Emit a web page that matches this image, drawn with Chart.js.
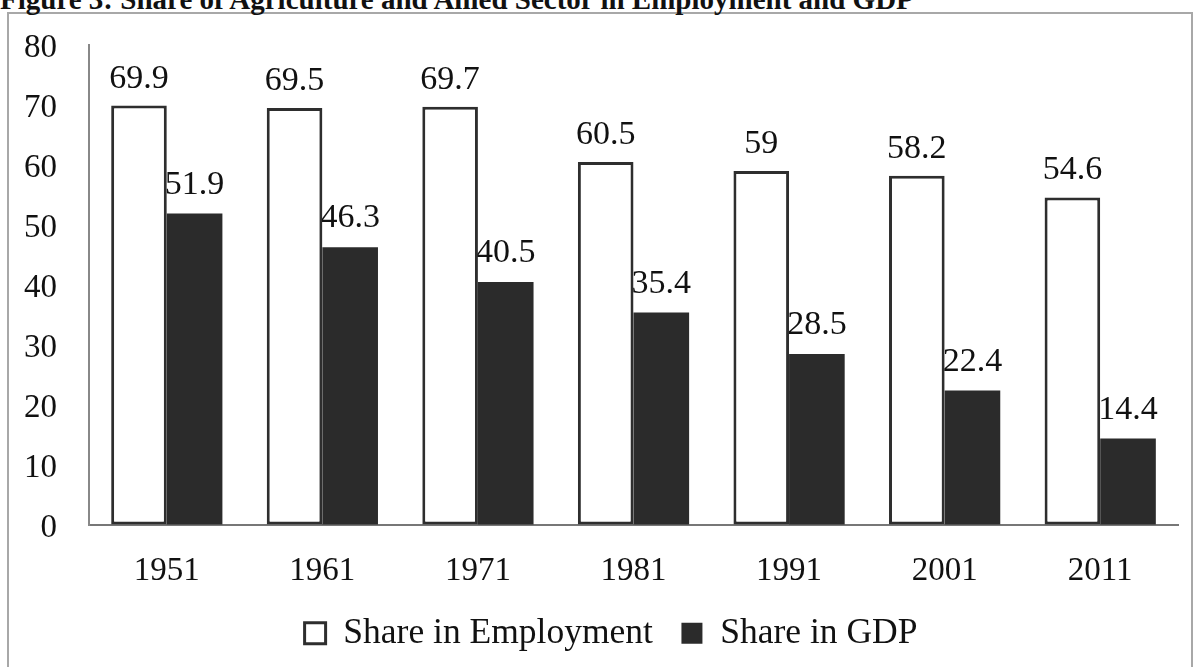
<!DOCTYPE html>
<html>
<head>
<meta charset="utf-8">
<script src="https://cdn.jsdelivr.net/npm/chart.js@4.4.0/dist/chart.umd.min.js"></script>
<style>
  html, body { margin: 0; padding: 0; background: #fff; overflow: hidden; }
  #wrap { position: relative; width: 1194px; height: 667px; overflow: hidden; background: #fff; }
  #frame { position: absolute; left: 7px; top: 12px; width: 1186px; height: 720px; border: 2px solid #a8a8a8; box-sizing: border-box; }
  #title { position: absolute; left: 0px; top: -15px; font: bold 29px "Liberation Serif", "Times New Roman", serif; line-height: 29px; color: #111; white-space: nowrap; }
  #cv { position: absolute; left: 0; top: 0; }
</style>
</head>
<body>
<div id="wrap">
  <div id="frame"></div>
  <div id="title">Figure 3: Share of Agriculture and Allied Sector in Employment and GDP</div>
  <canvas id="cv" width="1194" height="661"></canvas>
</div>
<script>
const categories = ["1951", "1961", "1971", "1981", "1991", "2001", "2011"];
const shareEmployment = [69.9, 69.5, 69.7, 60.5, 59, 58.2, 54.6];
const shareGDP = [51.9, 46.3, 40.5, 35.4, 28.5, 22.4, 14.4];
const seriesNames = ["Share in Employment", "Share in GDP"];
const yTicks = { min: 0, max: 80, step: 10 };

const SERIF = '"Liberation Serif", "Times New Roman", serif';

const valueLabels = {
  id: 'valueLabels',
  beforeDatasetsDraw(chart) {
    const ctx = chart.ctx;
    ctx.save();
    ctx.font = '34px ' + SERIF;
    ctx.fillStyle = '#111';
    ctx.textAlign = 'center';
    ctx.textBaseline = 'alphabetic';
    chart.data.datasets.forEach((ds, di) => {
      const meta = chart.getDatasetMeta(di);
      meta.data.forEach((bar, i) => {
        const gap = di === 0 ? 18 : 20;
        ctx.fillText(String(ds.data[i]), bar.x, bar.y - gap);
      });
    });
    ctx.restore();
  }
};

const legendShift = {
  id: 'legendShift',
  afterLayout(chart) {
    if (chart.legend) {
      chart.legend.left += 22;
      chart.legend.right += 22;
    }
  }
};

new Chart(document.getElementById('cv'), {
  type: 'bar',
  data: {
    labels: categories,
    datasets: [
      {
        label: seriesNames[0],
        data: shareEmployment,
        backgroundColor: '#ffffff',
        borderColor: '#2e2e2e',
        borderWidth: 3,
        borderSkipped: false
      },
      {
        label: seriesNames[1],
        data: shareGDP,
        backgroundColor: '#2b2b2b',
        borderColor: '#2b2b2b',
        borderWidth: 0
      }
    ]
  },
  options: {
    responsive: false,
    animation: false,
    devicePixelRatio: 1,
    categoryPercentage: 0.715,
    barPercentage: 1.0,
    layout: { padding: { top: 45, right: 16, left: 0, bottom: 0 } },
    plugins: {
      legend: {
        position: 'bottom',
        labels: {
          font: { family: SERIF, size: 35.5 },
          color: '#111',
          boxWidth: 21,
          boxHeight: 21,
          padding: 28.5
        }
      },
      tooltip: { enabled: false },
      title: { display: false }
    },
    scales: {
      x: {
        grid: { display: true, color: 'transparent', drawTicks: false },
        border: { display: true, color: '#777', width: 2 },
        ticks: { font: { family: SERIF, size: 33 }, color: '#111', padding: 27 },
        afterFit(s) { s.height = 62; s.paddingLeft = 0; s.paddingRight = 0; }
      },
      y: {
        min: yTicks.min,
        max: yTicks.max,
        grid: { display: true, color: 'transparent', drawTicks: false },
        border: { display: true, color: '#888', width: 2 },
        ticks: { stepSize: yTicks.step, font: { family: SERIF, size: 33 }, color: '#111', padding: 32, labelOffset: 3 },
        afterFit(s) { s.width = 89; s.paddingTop = 0; s.paddingBottom = 0; }
      }
    }
  },
  plugins: [valueLabels, legendShift]
});
</script>
</body>
</html>
